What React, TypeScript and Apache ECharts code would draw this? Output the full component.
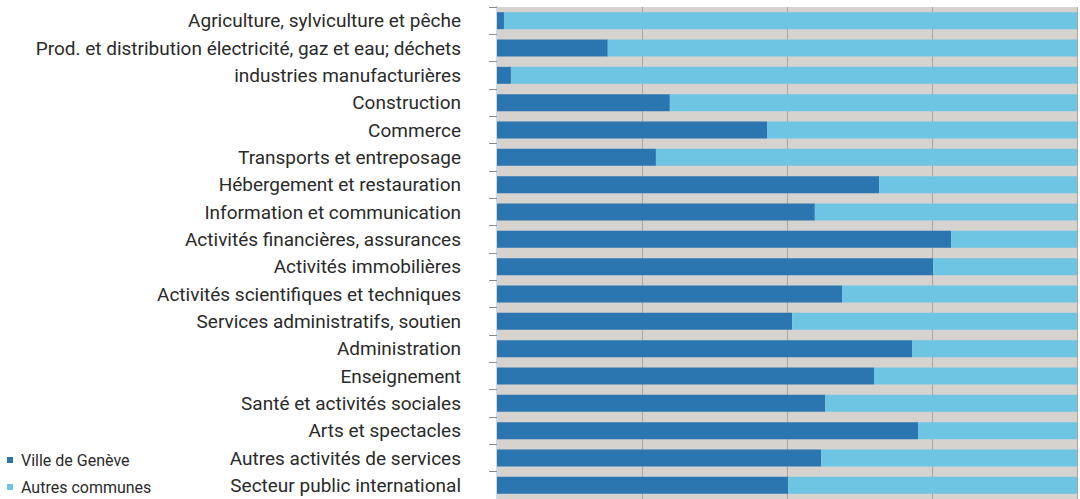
import React, { useEffect, useRef } from "react";
import * as echarts from "echarts";

const categories = [
  "Agriculture, sylviculture et pêche",
  "Prod. et distribution électricité, gaz et eau; déchets",
  "industries manufacturières",
  "Construction",
  "Commerce",
  "Transports et entreposage",
  "Hébergement et restauration",
  "Information et communication",
  "Activités financières, assurances",
  "Activités immobilières",
  "Activités scientifiques et techniques",
  "Services administratifs, soutien",
  "Administration",
  "Enseignement",
  "Santé et activités sociales",
  "Arts et spectacles",
  "Autres activités de services",
  "Secteur public international",
];

const villeDeGeneve = [1.2, 19.1, 2.4, 29.8, 46.6, 27.4, 65.9, 54.8, 78.3, 75.2, 59.5, 50.9, 71.6, 65.0, 56.6, 72.6, 55.9, 50.2];
const autresCommunes = [98.8, 80.9, 97.6, 70.2, 53.4, 72.6, 34.1, 45.2, 21.7, 24.8, 40.5, 49.1, 28.4, 35.0, 43.4, 27.4, 44.1, 49.8];

const seriesNames = ["Ville de Genève", "Autres communes"];
const seriesColors = ["#2b76b1", "#6dc5e3"];

export default function App() {
  const ref = useRef<HTMLDivElement>(null);
  useEffect(() => {
    if (!ref.current) return;
    const chart = echarts.init(ref.current, undefined, { renderer: "svg" });
    const legendCommon = {
      orient: "vertical",
      left: 7,
      padding: 0,
      itemWidth: 6,
      itemHeight: 6,
      icon: "rect",
      textStyle: { fontSize: 16, color: "#2a2a2a", fontFamily: "Roboto", padding: [0, 0, 0, 3] },
    };
    chart.setOption({
      animation: false,
      color: seriesColors,
      textStyle: { fontFamily: "Roboto" },
      legend: [
        { ...legendCommon, top: 452, data: [seriesNames[0]] },
        { ...legendCommon, top: 479, data: [seriesNames[1]] },
      ],
      grid: { left: 497, top: 7, width: 580, height: 493, show: true, backgroundColor: "#d6d3ce", borderWidth: 0 },
      xAxis: {
        type: "value",
        min: 0,
        max: 100,
        interval: 25,
        axisLabel: { show: false },
        axisLine: { show: false },
        axisTick: { show: false },
        splitLine: { show: true, lineStyle: { color: "#a8a6a2", width: 1 } },
      },
      yAxis: {
        type: "category",
        inverse: true,
        data: categories,
        axisLine: { show: true, lineStyle: { color: "#c9dbe6", width: 2 } },
        axisTick: { show: true, length: 8, lineStyle: { color: "#8a8a8a" } },
        axisLabel: { fontSize: 19, color: "#2a2a2a", margin: 36, fontFamily: "Roboto" },
      },
      series: [
        {
          name: seriesNames[0],
          type: "bar",
          stack: "total",
          barWidth: 17,
          data: villeDeGeneve,
          itemStyle: { color: seriesColors[0] },
        },
        {
          name: seriesNames[1],
          type: "bar",
          stack: "total",
          barWidth: 17,
          data: autresCommunes,
          itemStyle: { color: seriesColors[1] },
        },
      ],
    });
    return () => chart.dispose();
  }, []);
  return <div ref={ref} style={{ width: 1080, height: 499, position: "absolute", left: 0, top: 0 }} />;
}
